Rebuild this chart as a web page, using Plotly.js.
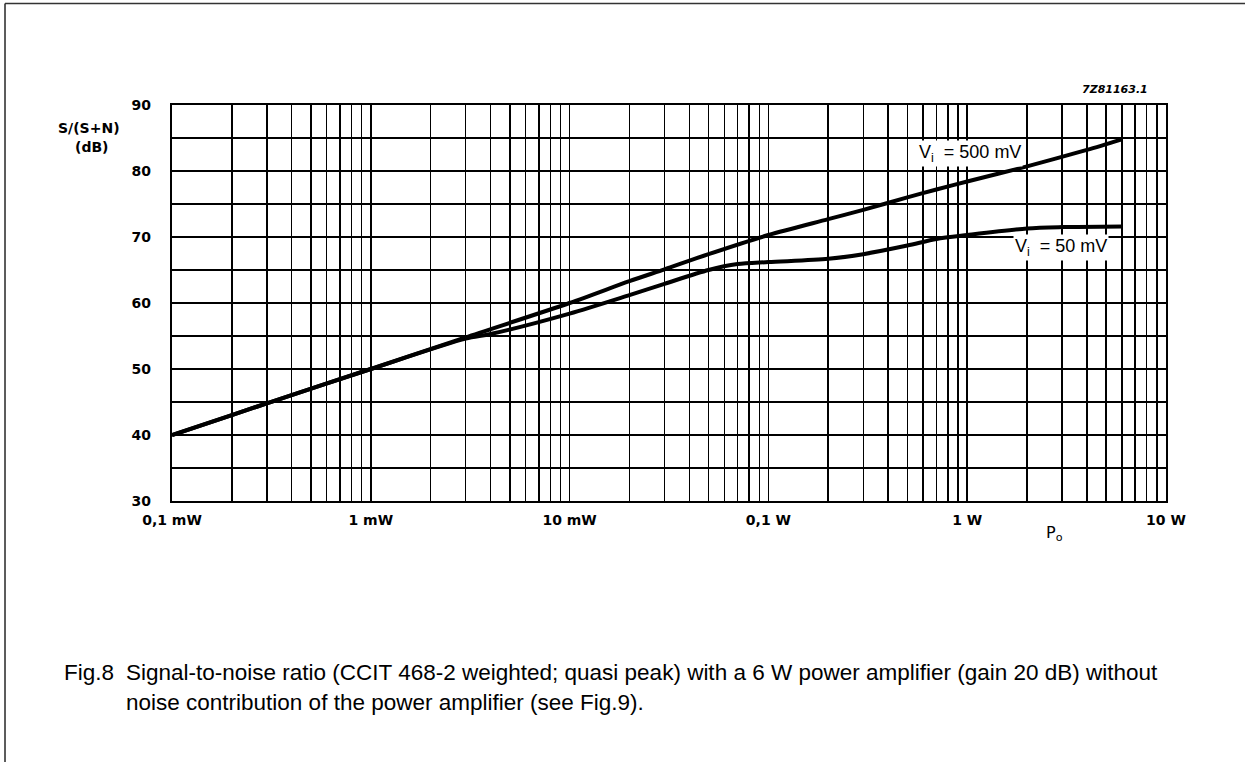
<!DOCTYPE html>
<html>
<head>
<meta charset="utf-8">
<script src="https://cdn.plot.ly/plotly-3.0.1.min.js"></script>
<style>
html,body{margin:0;padding:0;background:#fff;}
#chart{width:1245px;height:762px;}
</style>
</head>
<body>
<div id="chart"></div>
<script>
// Output power (W) and S/(S+N) (dB)
const power500 = [1e-4, 2e-4, 3e-4, 1e-3, 3e-3, 0.01, 0.02, 0.03, 0.05, 0.1, 0.2, 0.3, 0.5, 0.7, 1, 2, 4, 6];
const snr500   = [40, 43.0, 44.8, 50.0, 54.8, 60.0, 63.3, 65.1, 67.4, 70.3, 72.7, 74.1, 76.0, 77.2, 78.4, 80.7, 83.2, 84.8];

const power50 = [1e-4, 2e-4, 3e-4, 1e-3, 3e-3, 4e-3, 0.01, 0.02, 0.03, 0.05, 0.07, 0.1, 0.2, 0.3, 0.5, 0.7, 1, 2, 3, 6];
const snr50   = [40, 43.0, 44.8, 50.0, 54.6, 55.3, 58.4, 61.2, 62.9, 65.0, 65.9, 66.2, 66.7, 67.4, 68.7, 69.7, 70.3, 71.3, 71.5, 71.6];

const xTickVals = [1e-4, 1e-3, 1e-2, 1e-1, 1, 10];
const xTickText = ['0,1 mW', '1 mW', '10 mW', '0,1 W', '1 W', '10 W'];
const yTickVals = [30, 40, 50, 60, 70, 80, 90];
const minorMultipliers = [2, 3, 4, 5, 6, 7, 8, 9];

const xMinor = [];
for (let d = -4; d < 1; d++) {
  minorMultipliers.forEach(m => xMinor.push(m * Math.pow(10, d)));
}

const lineStyle = {color: '#000', width: 4, shape: 'spline', smoothing: 0.8};

const traces = [
  {x: power500, y: snr500, mode: 'lines', line: lineStyle, name: 'Vi = 500 mV', hoverinfo: 'skip'},
  {x: power50, y: snr50, mode: 'lines', line: lineStyle, name: 'Vi = 50 mV', hoverinfo: 'skip'}
];

const tickFont = {family: 'DejaVu Sans', size: 14, color: '#000', weight: 'bold'};
const labelFont = {family: 'Liberation Sans, Arial', size: 18, color: '#000'};
const captionFont = {family: 'Liberation Sans, Arial', size: 22.5, color: '#000'};

const layout = {
  width: 1245, height: 762,
  paper_bgcolor: '#fff', plot_bgcolor: '#fff',
  showlegend: false,
  margin: {l: 172, r: 79, t: 105, b: 261},
  xaxis: {
    type: 'log', range: [-4, 1],
    tickmode: 'array', tickvals: xTickVals, ticktext: xTickText,
    tickfont: tickFont, ticks: '', ticklabelstandoff: 5,
    showgrid: true, gridcolor: '#000', gridwidth: 1.6,
    minor: {tickmode: 'array', tickvals: xMinor, showgrid: true, gridcolor: '#000', gridwidth: 1.5, ticks: ''},
    showline: true, linecolor: '#000', linewidth: 2.2, mirror: true,
    zeroline: false, fixedrange: true
  },
  yaxis: {
    range: [30, 90],
    tickmode: 'array', tickvals: yTickVals,
    tickfont: tickFont, ticks: '', ticklabelstandoff: 16,
    showgrid: true, gridcolor: '#000', gridwidth: 1.6,
    minor: {dtick: 5, tick0: 30, showgrid: true, gridcolor: '#000', gridwidth: 1.5, ticks: ''},
    showline: true, linecolor: '#000', linewidth: 2.2, mirror: true,
    zeroline: false, fixedrange: true
  },
  shapes: [
    {type: 'line', xref: 'paper', yref: 'paper', x0: -0.168, x1: -0.168, y0: 1.2563, y1: -0.7, line: {color: '#333', width: 1.6}},
    {type: 'line', xref: 'paper', yref: 'paper', x0: -0.168, x1: 1.2, y0: 1.2563, y1: 1.2563, line: {color: '#333', width: 1.6}}
  ],
  annotations: [
    {xref: 'paper', yref: 'paper', x: -0.083, y: 0.943, text: 'S/(S+N)', showarrow: false, font: tickFont, xanchor: 'center', yanchor: 'middle'},
    {xref: 'paper', yref: 'paper', x: -0.08, y: 0.893, text: '(dB)', showarrow: false, font: tickFont, xanchor: 'center', yanchor: 'middle'},
    {xref: 'paper', yref: 'paper', x: 0.984, y: 1.04, text: '<i>7Z81163.1</i>', showarrow: false, font: {family: 'DejaVu Sans', size: 11, color: '#000', weight: 'bold'}, xanchor: 'right', yanchor: 'middle'},
    {xref: 'paper', yref: 'paper', x: 0.888, y: -0.083, text: 'P<sub>o</sub>', showarrow: false, font: {family: 'DejaVu Sans', size: 16, color: '#000'}, xanchor: 'center', yanchor: 'middle'},
    {xref: 'paper', yref: 'paper', x: 0.803, y: 0.877, text: 'V<sub>i</sub>  = 500 mV', showarrow: false, font: labelFont, bgcolor: '#fff', xanchor: 'center', yanchor: 'middle', borderpad: 1},
    {xref: 'paper', yref: 'paper', x: 0.894, y: 0.639, text: 'V<sub>i</sub>  = 50 mV', showarrow: false, font: labelFont, bgcolor: '#fff', xanchor: 'center', yanchor: 'middle', borderpad: 1},
    {xref: 'paper', yref: 'paper', x: -0.111, y: -0.434, text: 'Fig.8', showarrow: false, font: captionFont, xanchor: 'left', yanchor: 'middle'},
    {xref: 'paper', yref: 'paper', x: -0.0483, y: -0.434, text: 'Signal-to-noise ratio (CCIT 468-2 weighted; quasi peak) with a 6 W power amplifier (gain 20 dB) without', showarrow: false, font: captionFont, xanchor: 'left', yanchor: 'middle'},
    {xref: 'paper', yref: 'paper', x: -0.0483, y: -0.508, text: 'noise contribution of the power amplifier (see Fig.9).', showarrow: false, font: captionFont, xanchor: 'left', yanchor: 'middle'}
  ]
};

Plotly.newPlot('chart', traces, layout, {displayModeBar: false, staticPlot: true});
</script>
</body>
</html>
